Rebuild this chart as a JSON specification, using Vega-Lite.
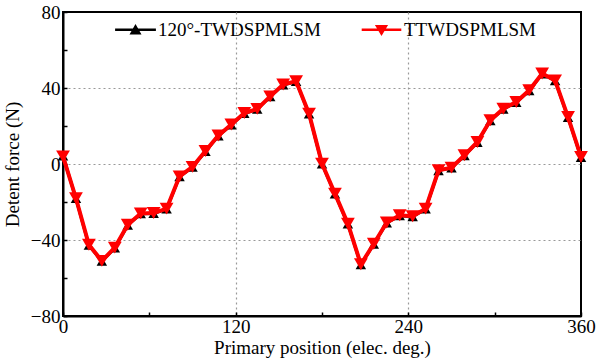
{
  "$schema": "https://vega.github.io/schema/vega-lite/v6.json",
  "width": 518,
  "height": 304,
  "autosize": {"type": "none"},
  "padding": {"left": 63, "top": 12, "right": 15, "bottom": 48},
  "background": "white",
  "config": {
    "font": "Liberation Serif",
    "view": {"stroke": "black", "strokeWidth": 2},
    "axis": {
      "labelFont": "Liberation Serif",
      "titleFont": "Liberation Serif",
      "labelFontSize": 19,
      "titleFontSize": 19,
      "titleFontWeight": "normal",
      "labelColor": "black",
      "titleColor": "black",
      "domainColor": "black",
      "domainWidth": 2,
      "tickColor": "black",
      "tickWidth": 1.5,
      "tickSize": -4,
      "gridColor": "#999999",
      "gridDash": [2, 3],
      "gridWidth": 1.2
    },
    "legend": {
      "labelFont": "Liberation Serif",
      "labelFontSize": 19,
      "labelColor": "black",
      "labelLimit": 0
    }
  },
  "data": {
    "values": [
      {"pos": 0, "force": 4.2, "series": "120°-TWDSPMLSM"},
      {"pos": 9, "force": -18.2, "series": "120°-TWDSPMLSM"},
      {"pos": 18, "force": -42.8, "series": "120°-TWDSPMLSM"},
      {"pos": 27, "force": -51.2, "series": "120°-TWDSPMLSM"},
      {"pos": 36, "force": -44.2, "series": "120°-TWDSPMLSM"},
      {"pos": 45, "force": -32.2, "series": "120°-TWDSPMLSM"},
      {"pos": 54, "force": -26.2, "series": "120°-TWDSPMLSM"},
      {"pos": 63, "force": -26, "series": "120°-TWDSPMLSM"},
      {"pos": 72, "force": -23.7, "series": "120°-TWDSPMLSM"},
      {"pos": 81, "force": -6.7, "series": "120°-TWDSPMLSM"},
      {"pos": 90, "force": -1.7, "series": "120°-TWDSPMLSM"},
      {"pos": 99, "force": 6.6, "series": "120°-TWDSPMLSM"},
      {"pos": 108, "force": 14.8, "series": "120°-TWDSPMLSM"},
      {"pos": 117, "force": 20.6, "series": "120°-TWDSPMLSM"},
      {"pos": 126, "force": 26.6, "series": "120°-TWDSPMLSM"},
      {"pos": 135, "force": 28.8, "series": "120°-TWDSPMLSM"},
      {"pos": 144, "force": 35.4, "series": "120°-TWDSPMLSM"},
      {"pos": 153, "force": 41.6, "series": "120°-TWDSPMLSM"},
      {"pos": 162, "force": 43.4, "series": "120°-TWDSPMLSM"},
      {"pos": 171, "force": 26.3, "series": "120°-TWDSPMLSM"},
      {"pos": 180, "force": 0, "series": "120°-TWDSPMLSM"},
      {"pos": 189, "force": -15.8, "series": "120°-TWDSPMLSM"},
      {"pos": 198, "force": -31.6, "series": "120°-TWDSPMLSM"},
      {"pos": 207, "force": -53, "series": "120°-TWDSPMLSM"},
      {"pos": 216, "force": -42.2, "series": "120°-TWDSPMLSM"},
      {"pos": 225, "force": -31, "series": "120°-TWDSPMLSM"},
      {"pos": 234, "force": -27.2, "series": "120°-TWDSPMLSM"},
      {"pos": 243, "force": -27.7, "series": "120°-TWDSPMLSM"},
      {"pos": 252, "force": -23.7, "series": "120°-TWDSPMLSM"},
      {"pos": 261, "force": -3.5, "series": "120°-TWDSPMLSM"},
      {"pos": 270, "force": -2.1, "series": "120°-TWDSPMLSM"},
      {"pos": 279, "force": 4.4, "series": "120°-TWDSPMLSM"},
      {"pos": 288, "force": 11.4, "series": "120°-TWDSPMLSM"},
      {"pos": 297, "force": 22.8, "series": "120°-TWDSPMLSM"},
      {"pos": 306, "force": 28.9, "series": "120°-TWDSPMLSM"},
      {"pos": 315, "force": 32.4, "series": "120°-TWDSPMLSM"},
      {"pos": 324, "force": 38.6, "series": "120°-TWDSPMLSM"},
      {"pos": 333, "force": 47.4, "series": "120°-TWDSPMLSM"},
      {"pos": 342, "force": 43.8, "series": "120°-TWDSPMLSM"},
      {"pos": 351, "force": 24.5, "series": "120°-TWDSPMLSM"},
      {"pos": 360, "force": 3.5, "series": "120°-TWDSPMLSM"},
      {"pos": 0, "force": 4, "series": "TTWDSPMLSM"},
      {"pos": 9, "force": -18, "series": "TTWDSPMLSM"},
      {"pos": 18, "force": -42.5, "series": "TTWDSPMLSM"},
      {"pos": 27, "force": -51, "series": "TTWDSPMLSM"},
      {"pos": 36, "force": -44, "series": "TTWDSPMLSM"},
      {"pos": 45, "force": -32, "series": "TTWDSPMLSM"},
      {"pos": 54, "force": -26, "series": "TTWDSPMLSM"},
      {"pos": 63, "force": -25.8, "series": "TTWDSPMLSM"},
      {"pos": 72, "force": -23.5, "series": "TTWDSPMLSM"},
      {"pos": 81, "force": -6.5, "series": "TTWDSPMLSM"},
      {"pos": 90, "force": -1.5, "series": "TTWDSPMLSM"},
      {"pos": 99, "force": 6.8, "series": "TTWDSPMLSM"},
      {"pos": 108, "force": 15, "series": "TTWDSPMLSM"},
      {"pos": 117, "force": 20.8, "series": "TTWDSPMLSM"},
      {"pos": 126, "force": 26.8, "series": "TTWDSPMLSM"},
      {"pos": 135, "force": 29, "series": "TTWDSPMLSM"},
      {"pos": 144, "force": 35.6, "series": "TTWDSPMLSM"},
      {"pos": 153, "force": 41.8, "series": "TTWDSPMLSM"},
      {"pos": 162, "force": 43.6, "series": "TTWDSPMLSM"},
      {"pos": 171, "force": 26.5, "series": "TTWDSPMLSM"},
      {"pos": 180, "force": 0.2, "series": "TTWDSPMLSM"},
      {"pos": 189, "force": -15.6, "series": "TTWDSPMLSM"},
      {"pos": 198, "force": -31.4, "series": "TTWDSPMLSM"},
      {"pos": 207, "force": -52.8, "series": "TTWDSPMLSM"},
      {"pos": 216, "force": -42, "series": "TTWDSPMLSM"},
      {"pos": 225, "force": -30.8, "series": "TTWDSPMLSM"},
      {"pos": 234, "force": -27, "series": "TTWDSPMLSM"},
      {"pos": 243, "force": -27.5, "series": "TTWDSPMLSM"},
      {"pos": 252, "force": -23.5, "series": "TTWDSPMLSM"},
      {"pos": 261, "force": -3.3, "series": "TTWDSPMLSM"},
      {"pos": 270, "force": -1.9, "series": "TTWDSPMLSM"},
      {"pos": 279, "force": 4.6, "series": "TTWDSPMLSM"},
      {"pos": 288, "force": 11.6, "series": "TTWDSPMLSM"},
      {"pos": 297, "force": 23, "series": "TTWDSPMLSM"},
      {"pos": 306, "force": 29.1, "series": "TTWDSPMLSM"},
      {"pos": 315, "force": 32.6, "series": "TTWDSPMLSM"},
      {"pos": 324, "force": 38.8, "series": "TTWDSPMLSM"},
      {"pos": 333, "force": 47.6, "series": "TTWDSPMLSM"},
      {"pos": 342, "force": 44, "series": "TTWDSPMLSM"},
      {"pos": 351, "force": 24.7, "series": "TTWDSPMLSM"},
      {"pos": 360, "force": 3.7, "series": "TTWDSPMLSM"}
    ]
  },
  "encoding": {
    "x": {
      "field": "pos",
      "type": "quantitative",
      "scale": {"domain": [0, 360], "nice": false},
      "axis": {
        "title": "Primary position (elec. deg.)",
        "labelFont": "Liberation Serif",
        "titleFont": "Liberation Serif",
        "values": [0, 60, 120, 180, 240, 300, 360],
        "labelExpr": "datum.value % 120 === 0 ? datum.label : ''",
        "gridOpacity": {"condition": {"test": "datum.value === 120 || datum.value === 240", "value": 1}, "value": 0},
        "labelPadding": 5,
        "titlePadding": 2,
        "labelFlush": false
      }
    },
    "y": {
      "field": "force",
      "type": "quantitative",
      "scale": {"domain": [-80, 80], "nice": false},
      "axis": {
        "title": "Detent force (N)",
        "labelFont": "Liberation Serif",
        "titleFont": "Liberation Serif",
        "values": [-80, -60, -40, -20, 0, 20, 40, 60, 80],
        "labelExpr": "datum.value % 40 === 0 ? datum.label : ''",
        "gridOpacity": {"condition": {"test": "datum.value === -40 || datum.value === 0 || datum.value === 40", "value": 1}, "value": 0},
        "labelPadding": 7,
        "titlePadding": 8,
        "labelFlush": false
      }
    },
    "color": {
      "field": "series",
      "type": "nominal",
      "scale": {"domain": ["120°-TWDSPMLSM", "TTWDSPMLSM"], "range": ["black", "#ff0000"]},
      "legend": {
        "title": null,
        "orient": "none",
        "direction": "horizontal",
        "legendX": 63,
        "legendY": 8,
        "padding": 0,
        "symbolSize": 144,
        "labelOffset": 13,
        "labelLimit": 0,
        "columnPadding": 40,
        "encode": {
          "symbols": {
            "update": {
              "shape": [
                {"test": "datum.value === 'TTWDSPMLSM'", "value": "M-3.3,-0.22H3.3V0.22H-3.3Z M-1.1,-0.8L1.1,-0.8L0,1.05Z"},
                {"value": "M-3.4,-0.2H3.4V0.2H-3.4Z M0,-0.95L1,0.8L-1,0.8Z"}
              ],
              "strokeWidth": {"value": 0},
              "opacity": {"value": 1},
              "fillOpacity": {"value": 1}
            }
          }
        }
      }
    }
  },
  "layer": [
    {
      "transform": [{"filter": "datum.series === '120°-TWDSPMLSM'"}],
      "mark": {"type": "line", "strokeWidth": 3}
    },
    {
      "transform": [{"filter": "datum.series === '120°-TWDSPMLSM'"}],
      "mark": {"type": "point", "filled": true, "opacity": 1, "shape": "triangle-up", "size": 110}
    },
    {
      "transform": [{"filter": "datum.series === 'TTWDSPMLSM'"}],
      "mark": {"type": "line", "strokeWidth": 4}
    },
    {
      "transform": [{"filter": "datum.series === 'TTWDSPMLSM'"}],
      "mark": {"type": "point", "filled": true, "opacity": 1, "shape": "triangle-down", "size": 190}
    }
  ]
}
